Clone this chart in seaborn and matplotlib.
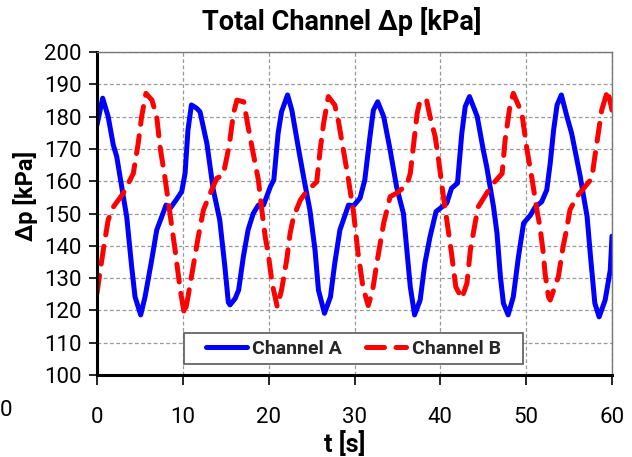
import numpy as np
import pandas as pd
import matplotlib
matplotlib.use("Agg")
import matplotlib.pyplot as plt
from matplotlib.patches import Rectangle
import seaborn as sns

# ---- data ----
t_a = [0.0, 0.66, 1.3, 1.9, 2.3, 3.07, 3.46, 4.04, 4.43, 5.09, 5.6, 6.37, 6.96, 7.54, 8.04, 8.5,
       9.3, 9.87, 10.26, 10.6, 11.0, 11.6, 12.0, 12.8, 13.55, 14.3, 14.9, 15.3, 15.5, 16.1, 16.5,
       17.05, 17.6, 18.2, 18.8, 19.4, 20.2, 20.6, 21.1, 21.5, 22.2, 22.7, 23.5, 24.2, 24.8, 25.4,
       25.8, 26.5, 27.2, 27.7, 28.3, 29.3, 29.9, 30.65, 31.2, 31.8, 32.2, 32.7, 33.4, 34.15, 34.9,
       35.7, 36.1, 36.5, 37.0, 37.65, 38.2, 38.8, 39.5, 40.75, 41.3, 42.0, 42.5, 42.9, 43.4, 44.3,
       45.0, 45.4, 46.2, 46.6, 47.0, 47.35, 47.9, 48.5, 49.1, 49.7, 50.5, 51.05, 51.8, 52.4, 52.8,
       53.2, 53.6, 54.1, 54.75, 55.3, 56.3, 57.1, 57.5, 58.0, 58.5, 59.2, 59.8, 60.0]
p_a = [177.4, 185.7, 180.0, 171.2, 167.6, 155.2, 149.0, 133.5, 124.2, 118.6, 124.2, 135.6, 144.9,
       149.0, 152.6, 151.5, 154.5, 156.8, 162.4, 175.9, 183.6, 182.6, 181.5, 171.7, 157.3, 148.0,
       133.5, 122.5, 121.7, 123.7, 126.3, 136.6, 144.9, 150.0, 152.6, 152.6, 158.3, 160.4, 174.8,
       181.5, 186.7, 182.0, 169.7, 159.4, 151.1, 138.7, 126.3, 119.1, 124.2, 134.6, 144.9, 152.6,
       152.4, 154.8, 160.4, 173.8, 182.0, 184.6, 180.0, 169.7, 158.3, 150.0, 138.7, 127.3, 118.6,
       123.2, 134.6, 142.8, 150.6, 153.2, 157.8, 159.4, 174.8, 183.1, 186.2, 180.0, 169.7, 164.5,
       152.0, 143.9, 130.4, 122.2, 118.6, 124.2, 136.6, 147.0, 149.5, 152.0, 153.6, 157.3, 165.5,
       175.9, 183.6, 186.7, 180.0, 174.8, 161.4, 149.0, 136.6, 122.2, 118.0, 123.2, 132.5, 143.0]

t_b = [0.0, 0.27, 0.73, 1.3, 1.9, 3.07, 4.23, 4.8, 5.2, 5.7, 6.4, 6.96, 7.34, 7.9, 8.5, 9.1, 9.7,
       10.2, 10.6, 11.2, 11.8, 12.4, 13.2, 13.95, 14.7, 15.4, 15.9, 16.3, 17.1, 17.6, 18.2, 18.8,
       19.2, 19.6, 20.0, 20.4, 21.0, 21.5, 22.1, 22.5, 22.9, 23.7, 24.4, 25.6, 26.0, 26.4, 26.95,
       27.7, 28.1, 28.7, 29.3, 29.9, 30.4, 31.0, 31.6, 32.1, 32.6, 33.4, 34.15, 34.9, 36.1, 36.5,
       36.9, 37.3, 37.65, 38.4, 38.8, 39.4, 39.8, 40.2, 40.75, 41.3, 41.8, 42.5, 43.1, 43.5, 44.05,
       44.4, 45.4, 46.2, 47.2, 47.55, 48.1, 48.5, 49.5, 50.1, 50.7, 51.25, 51.6, 52.0, 52.2, 52.6,
       52.8, 53.75, 54.3, 54.7, 55.1, 55.9, 56.7, 57.65, 58.0, 58.4, 58.8, 59.5, 60.0]
p_b = [125.3, 130.4, 138.7, 148.0, 152.0, 156.3, 162.4, 171.7, 180.0, 187.2, 185.1, 180.0, 170.7,
       161.4, 150.0, 138.7, 126.3, 118.6, 124.2, 133.5, 142.8, 151.1, 156.3, 160.9, 161.9, 171.0,
       181.0, 185.1, 184.6, 176.9, 168.6, 160.4, 151.1, 142.8, 136.6, 128.4, 121.1, 126.3, 135.6,
       143.9, 149.0, 154.2, 156.8, 159.8, 169.7, 177.9, 186.2, 183.6, 179.0, 169.7, 160.4, 150.0,
       138.0, 127.0, 121.5, 126.0, 134.6, 147.0, 155.2, 156.3, 158.8, 162.4, 171.7, 181.0, 185.1,
       185.1, 180.0, 173.8, 166.6, 158.3, 148.0, 137.7, 127.3, 123.7, 128.4, 138.7, 147.0, 152.0,
       156.3, 159.4, 162.4, 172.8, 183.1, 187.2, 181.0, 169.7, 160.4, 151.1, 146.0, 137.7, 131.5,
       124.2, 123.2, 130.4, 139.7, 144.9, 151.1, 155.2, 157.8, 160.9, 167.6, 174.8, 182.0, 188.2,
       182.0]

series_names = ["Channel A", "Channel B"]
x_ticks = [0, 10, 20, 30, 40, 50, 60]
y_ticks = [100, 110, 120, 130, 140, 150, 160, 170, 180, 190, 200]

df = pd.concat([
    pd.DataFrame({"t": t_a, "dp": p_a, "channel": series_names[0]}),
    pd.DataFrame({"t": t_b, "dp": p_b, "channel": series_names[1]}),
], ignore_index=True)

sns.set_theme(style="white")
plt.rcParams["font.family"] = ["Roboto", "DejaVu Sans"]

fig = plt.figure(figsize=(6.32, 4.57), dpi=100)
ax = fig.add_axes([97 / 632, 1 - 375 / 457, 515 / 632, 323 / 457])

sns.lineplot(data=df, x="t", y="dp", hue="channel", style="channel",
             palette={"Channel A": "#0000ff", "Channel B": "#ff0000"},
             dashes={"Channel A": "", "Channel B": (3.6, 2.3)},
             linewidth=3.6, estimator=None, sort=False, ax=ax, legend=True)
for ln in ax.get_lines():
    ln.set_solid_capstyle("round")
    ln.set_dash_capstyle("round")
    ln.set_solid_joinstyle("round")
    ln.set_dash_joinstyle("round")

ax.set_xlim(0, 60)
ax.set_ylim(100, 200)
ax.set_xticks(x_ticks)
ax.set_yticks(y_ticks)
ax.grid(True, color="#999999", linestyle=(0, (3, 2)), linewidth=0.9)
ax.set_axisbelow(True)

for side in ["left", "bottom"]:
    ax.spines[side].set_color("black")
    ax.spines[side].set_linewidth(2.2)
for side in ["top", "right"]:
    ax.spines[side].set_color("#777777")
    ax.spines[side].set_linewidth(1.0)
    ax.spines[side].set_visible(True)

ax.tick_params(axis="x", direction="out", length=7, width=1.2, color="black",
               pad=16, labelsize=16, labelcolor="black", bottom=True)
ax.tick_params(axis="y", direction="out", length=6, width=1.2, color="black",
               pad=5, labelsize=16, labelcolor="black", left=True)
ax.set_xlabel("")
ax.set_ylabel("")

fig.text(25 / 632, 1 - 196 / 457, "Δp [kPa]", rotation=90, ha="center", va="center",
         fontsize=17, fontweight="bold", color="black")
fig.text(345 / 632, 1 - 444 / 457, "t [s]", ha="center", va="center",
         fontsize=18, fontweight="bold", color="black")
fig.text(342 / 632, 1 - 22 / 457, "Total Channel Δp [kPa]", ha="center", va="center",
         fontsize=19.5, fontweight="bold", color="black")
fig.text(0, 1 - 411 / 457, "0", ha="left", va="center", fontsize=16, color="black")

# legend box
x0 = (184 - 97) / 515
y0 = (375 - 364) / 323
w = (523 - 184) / 515
h = (364 - 333) / 323
ax.add_patch(Rectangle((x0, y0), w, h, transform=ax.transAxes, facecolor="white",
                       edgecolor="#666666", linewidth=1.3, zorder=4))
handles, labels = ax.get_legend_handles_labels()
leg = ax.legend(handles, labels, loc="center", bbox_to_anchor=(x0 + w / 2, y0 + h / 2),
                ncol=2, frameon=False, handlelength=2.1, handletextpad=0.3,
                columnspacing=1.2, prop={"weight": "bold", "size": 14})
leg.set_zorder(5)

fig.savefig("out.png", dpi=100)
